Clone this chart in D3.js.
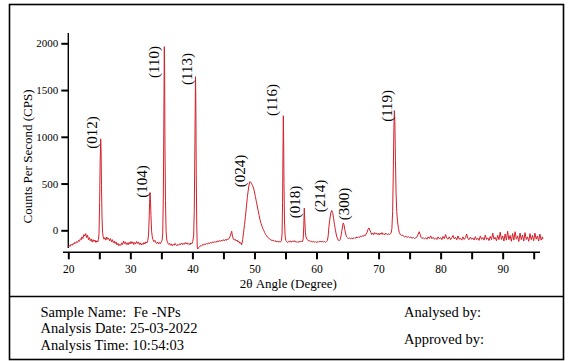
<!DOCTYPE html>
<html><head><meta charset="utf-8">
<script src="https://cdn.jsdelivr.net/npm/d3@7"></script>
<style>
html,body{margin:0;padding:0;background:#fff;}
svg{display:block;}
text{font-family:"Liberation Serif","Times New Roman",serif;fill:#000;}
</style></head>
<body>
<script>
// ---- data ----
const xTicks = [20,25,30,35,40,45,50,55,60,65,70,75,80,85,90,95];
const xTickLabels = ["20","","30","","40","","50","","60","","70","","80","","90",""];
const yTicks = [0,500,1000,1500,2000];
const yTickLabels = ["0","500","1000","1500","2000"];

const pattern = [
[20.0,-180],[20.15,-165],[20.3,-172],[20.45,-150],[20.6,-160],[20.75,-142],[20.9,-150],[21.05,-128],[21.2,-140],[21.35,-120],[21.5,-130],[21.65,-108],[21.8,-118],[21.95,-90],[22.1,-100],[22.2,-70],[22.35,-88],[22.5,-45],[22.65,-62],[22.8,-35],[22.95,-78],[23.1,-52],[23.25,-100],[23.4,-78],[23.55,-112],[23.7,-92],[23.85,-126],[24.0,-100],[24.15,-120],[24.3,-104],[24.45,-130],[24.6,-112],[24.75,-125],[24.85,-100],[24.95,-40],[25.05,300],[25.13,720],[25.22,978],[25.28,860],[25.35,480],[25.43,150],[25.52,-20],[25.62,-70],[25.75,-95],
[25.9,-78],[26.05,-105],[26.2,-72],[26.35,-96],[26.5,-84],[26.65,-112],[26.8,-90],[26.95,-122],[27.1,-100],[27.25,-132],[27.4,-114],[27.55,-142],[27.7,-124],[27.85,-157],[28.0,-140],[28.15,-166],[28.3,-150],[28.45,-162],[28.6,-134],[28.75,-152],[28.9,-114],[29.05,-142],[29.2,-124],[29.35,-152],[29.5,-134],[29.65,-156],[29.8,-128],[29.95,-146],[30.1,-120],[30.25,-142],[30.4,-124],[30.55,-152],[30.7,-130],[30.85,-147],[31.0,-120],[31.15,-140],[31.3,-124],[31.45,-152],[31.6,-134],[31.75,-157],[31.9,-140],[32.05,-152],[32.2,-130],[32.35,-146],[32.5,-124],[32.65,-136],[32.8,-112],[32.92,-60],[33.02,100],[33.1,300],[33.17,404],[33.24,330],[33.32,160],[33.42,-5],[33.53,-70],[33.65,-100],[33.8,-122],[33.95,-108],[34.1,-132],[34.25,-142],[34.4,-124],[34.55,-146],[34.7,-130],[34.85,-142],[35.0,-122],[35.12,-105],[35.22,-30],[35.32,400],[35.4,1200],[35.47,1964],[35.52,1720],[35.58,900],[35.66,320],[35.76,-10],[35.88,-105],[36.0,-130],
[36.15,-150],[36.3,-140],[36.45,-160],[36.6,-145],[36.75,-166],[36.9,-150],[37.05,-160],[37.2,-140],[37.35,-156],[37.5,-166],[37.65,-150],[37.8,-160],[37.95,-145],[38.1,-152],[38.25,-135],[38.4,-156],[38.55,-140],[38.7,-150],[38.85,-130],[39.0,-146],[39.15,-134],[39.3,-150],[39.45,-140],[39.6,-156],[39.75,-135],[39.9,-146],[40.05,-120],[40.2,-60],[40.3,200],[40.4,900],[40.5,1643],[40.55,1400],[40.62,600],[40.7,50],[40.78,-180],[40.87,-200],[40.97,-186],
[41.1,-176],[41.25,-165],[41.4,-171],[41.55,-160],[41.7,-152],[41.85,-158],[42.0,-145],[42.15,-151],[42.3,-140],[42.45,-148],[42.6,-134],[42.75,-142],[42.9,-130],[43.05,-138],[43.2,-125],[43.35,-133],[43.5,-120],[43.65,-130],[43.8,-118],[43.95,-126],[44.1,-112],[44.25,-122],[44.4,-108],[44.55,-118],[44.7,-104],[44.85,-115],[45.0,-100],[45.15,-112],[45.3,-98],[45.45,-108],[45.6,-92],[45.75,-100],[45.9,-86],[46.05,-70],[46.2,-40],[46.33,-10],[46.45,-60],[46.6,-92],[46.75,-104],[46.9,-96],[47.05,-114],[47.2,-104],[47.35,-126],[47.5,-118],[47.65,-140],[47.8,-132],[47.94,-155],
[48.1,-100],[48.25,-20],[48.4,60],[48.55,150],[48.7,250],[48.85,350],[49.0,430],[49.15,495],[49.28,522],[49.43,510],[49.58,490],[49.72,475],[49.85,452],[50.0,410],[50.15,360],[50.3,310],[50.45,260],[50.6,210],[50.75,160],[50.9,110],[51.05,75],[51.2,45],[51.35,18],[51.5,-2],[51.65,-25],[51.8,-45],[51.95,-60],[52.1,-74],[52.25,-80],[52.4,-92],[52.55,-96],[52.7,-108],[52.85,-102],[53.0,-114],[53.15,-108],[53.3,-120],[53.45,-112],[53.6,-125],[53.75,-115],[53.9,-128],[54.05,-118],[54.2,-125],[54.35,-110],[54.45,-40],[54.53,300],[54.59,800],[54.65,1225],[54.7,1000],[54.76,500],[54.84,100],[54.94,-60],[55.07,-110],
[55.2,-122],[55.35,-130],[55.5,-118],[55.65,-125],[55.8,-112],[55.95,-128],[56.1,-115],[56.25,-122],[56.4,-110],[56.55,-125],[56.7,-118],[56.85,-130],[57.0,-120],[57.15,-128],[57.3,-115],[57.45,-125],[57.6,-118],[57.75,-120],[57.86,-90],[57.95,50],[58.03,237],[58.1,120],[58.2,-20],[58.3,-70],[58.45,-95],[58.6,-105],[58.75,-116],[58.9,-110],[59.05,-121],[59.2,-115],[59.35,-126],[59.5,-118],[59.65,-128],[59.8,-120],[59.95,-130],[60.1,-122],[60.25,-128],[60.4,-118],[60.55,-125],[60.7,-115],[60.85,-125],[61.0,-118],[61.15,-126],[61.3,-120],[61.45,-128],[61.6,-122],
[61.75,-110],[61.88,-60],[62.0,40],[62.15,120],[62.3,185],[62.45,212],[62.6,190],[62.75,130],[62.9,60],[63.05,0],[63.2,-50],[63.35,-85],[63.5,-105],[63.65,-112],[63.8,-100],[63.95,-60],[64.1,0],[64.22,55],[64.32,78],[64.42,60],[64.55,10],[64.7,-40],[64.85,-70],[65.0,-80],[65.15,-88],[65.3,-82],
[65.45,-90],[65.6,-84],[65.75,-92],[65.9,-80],[66.05,-88],[66.2,-78],[66.35,-85],[66.5,-72],[66.65,-80],[66.8,-68],[66.95,-76],[67.1,-62],[67.25,-70],[67.4,-58],[67.55,-65],[67.7,-50],[67.85,-58],[68.0,-40],[68.15,-20],[68.3,10],[68.45,25],[68.6,0],[68.75,-20],[68.9,-45],[69.05,-30],[69.2,-48],[69.35,-25],[69.5,-40],[69.65,-28],[69.8,-45],[69.95,-32],[70.1,-50],[70.25,-30],[70.4,-42],[70.55,-25],[70.7,-45],[70.85,-35],[71.0,-48],[71.15,-30],[71.3,-40],[71.45,-50],[71.6,-35],[71.75,-45],[71.9,-38],[72.02,-30],[72.15,20],[72.27,200],[72.38,650],[72.47,1100],[72.55,1280],[72.63,1150],[72.72,750],[72.82,400],[72.93,200],[73.05,100],[73.2,20],[73.35,-25],[73.5,-45],[73.7,-55],[73.85,-50],
[74.0,-62],[74.2,-70],[74.4,-64],[74.6,-75],[74.8,-68],[75.0,-80],[75.2,-72],[75.4,-85],[75.6,-76],[75.8,-88],[76.0,-80],[76.2,-70],[76.4,-40],[76.55,-15],[76.7,-45],[76.85,-75],[77.0,-88],[77.2,-78],[77.4,-92],[77.6,-80],[77.8,-95],[78.0,-70],[78.2,-88],[78.4,-60],[78.6,-90],[78.8,-75],[79.0,-95],[79.2,-82],[79.4,-98],[79.6,-70],[79.8,-92],[80.0,-78],[80.2,-100],[80.4,-65],[80.6,-90],[80.8,-45],[81.0,-85],[81.2,-95],[81.4,-70],[81.6,-100],[81.8,-80],[82.0,-55],[82.2,-92],[82.4,-75],[82.6,-102],[82.8,-60],[83.0,-95],[83.2,-85],[83.4,-105],[83.6,-70],[83.8,-98],[84.0,-80],[84.2,-40],[84.4,-90],[84.6,-100],[84.8,-72],[85.0,-95],[85.2,-82],[85.4,-104],[85.6,-68],[85.8,-100],[86.0,-85],[86.2,-108],[86.4,-60],[86.6,-96],[86.8,-78],[87.0,-105],[87.2,-50],[87.4,-98],[87.6,-80],[87.8,-110],[88.0,-65],[88.2,-100],[88.4,-30],[88.6,-95],[88.8,-75],[89.0,-112],[89.2,-55],[89.4,-100],[89.6,-20],[89.8,-98],[90.0,-60],[90.2,-115],[90.4,-40],[90.6,-105],[90.8,-10],[91.0,-100],[91.2,-55],[91.4,-118],[91.6,-35],[91.8,-105],[92.0,-15],[92.2,-95],[92.4,-60],[92.6,-120],[92.8,-30],[93.0,-100],[93.2,-50],[93.4,-115],[93.6,-25],[93.8,-98],[94.0,-70],[94.2,-118],[94.4,-35],[94.6,-100],[94.8,-55],[95.0,-112],[95.2,-30],[95.4,-95],[95.6,-60],[95.8,-115],[96.0,-40],[96.2,-105],[96.4,-70],[96.5,-95]
];

const peakLabels = ["(012)","(104)","(110)","(113)","(024)","(116)","(018)","(214)","(300)","(119)"];
const labelAngles = [23.74,31.8,33.78,39.05,47.67,52.75,56.53,60.56,64.51,71.28];
const labelCps = [1046,522,1800,1725,634,1394,303,367,281,1331];

const infoLeft = ["Sample Name:  Fe -NPs","Analysis Date: 25-03-2022","Analysis Time: 10:54:03"];
const infoRight = ["Analysed by:","Approved by:"];

// ---- drawing ----
const W = 573, H = 361;
const svg = d3.select("body").append("svg").attr("width", W).attr("height", H);

const x = d3.scaleLinear().domain([20, 95]).range([68.3, 533.7]);
const y = d3.scaleLinear().domain([0, 2000]).range([230.3, 43.3]);

// frame
svg.append("rect").attr("x", 9.5).attr("y", 4.5).attr("width", 554).attr("height", 355)
  .attr("fill", "none").attr("stroke", "#000").attr("stroke-width", 1.6);
svg.append("line").attr("x1", 9.5).attr("x2", 563.5).attr("y1", 296.5).attr("y2", 296.5)
  .attr("stroke", "#000").attr("stroke-width", 1.6);

// y axis
const yAxis = d3.axisLeft(y).tickValues(yTicks).tickSize(7).tickPadding(3)
  .tickFormat((d, i) => yTickLabels[i]);
const gy = svg.append("g").attr("transform", "translate(68.3,0)").call(yAxis);
gy.select(".domain").remove();
gy.append("line").attr("x1", 0).attr("x2", 0).attr("y1", 33).attr("y2", 248)
  .attr("stroke", "#000").attr("stroke-width", 1.4);
gy.selectAll(".tick line").attr("stroke", "#000").attr("stroke-width", 2);
gy.selectAll(".tick text").attr("font-size", 11).attr("font-family", "Liberation Serif, serif").attr("fill", "#000");

// x axis
const xAxis = d3.axisBottom(x).tickValues(xTicks).tickSize(7).tickPadding(6)
  .tickFormat((d, i) => xTickLabels[i]);
const gx = svg.append("g").attr("transform", "translate(0,252.3)").call(xAxis);
gx.select(".domain").remove();
gx.append("line").attr("x1", 63).attr("x2", 540).attr("y1", 0).attr("y2", 0)
  .attr("stroke", "#000").attr("stroke-width", 1.4);
gx.selectAll(".tick line").attr("stroke", "#000").attr("stroke-width", 2);
gx.selectAll(".tick text").attr("font-size", 11.5).attr("font-family", "Liberation Serif, serif").attr("fill", "#000");

// axis titles
svg.append("text").attr("x", 288.3).attr("y", 287.5).attr("text-anchor", "middle")
  .attr("font-size", 13).text("2θ Angle (Degree)");
svg.append("text").attr("transform", "translate(32,156.5) rotate(-90)").attr("text-anchor", "middle")
  .attr("font-size", 13).text("Counts Per Second (CPS)");

// pattern line
const line = d3.line().x(d => x(d[0])).y(d => y(d[1]));
svg.append("path").datum(pattern).attr("d", line).attr("fill", "none")
  .attr("stroke", "#d4202a").attr("stroke-width", 1).attr("stroke-linejoin", "round");

// peak labels
svg.append("g").selectAll("text").data(peakLabels).join("text")
  .attr("transform", (d, i) => `translate(${x(labelAngles[i])},${y(labelCps[i])}) rotate(-90)`)
  .attr("text-anchor", "middle").attr("dominant-baseline", "central")
  .attr("font-size", 15).text(d => d);

// info box
const baseL = [316.7, 333.3, 350];
svg.append("g").selectAll("text").data(infoLeft).join("text")
  .attr("x", 40.5).attr("y", (d, i) => baseL[i]).attr("font-size", 14.5).attr("xml:space", "preserve")
  .style("white-space", "pre").text(d => d);
const baseR = [316.7, 344.3];
svg.append("g").selectAll("text").data(infoRight).join("text")
  .attr("x", 404).attr("y", (d, i) => baseR[i]).attr("font-size", 14.5).text(d => d);
</script>
</body></html>
